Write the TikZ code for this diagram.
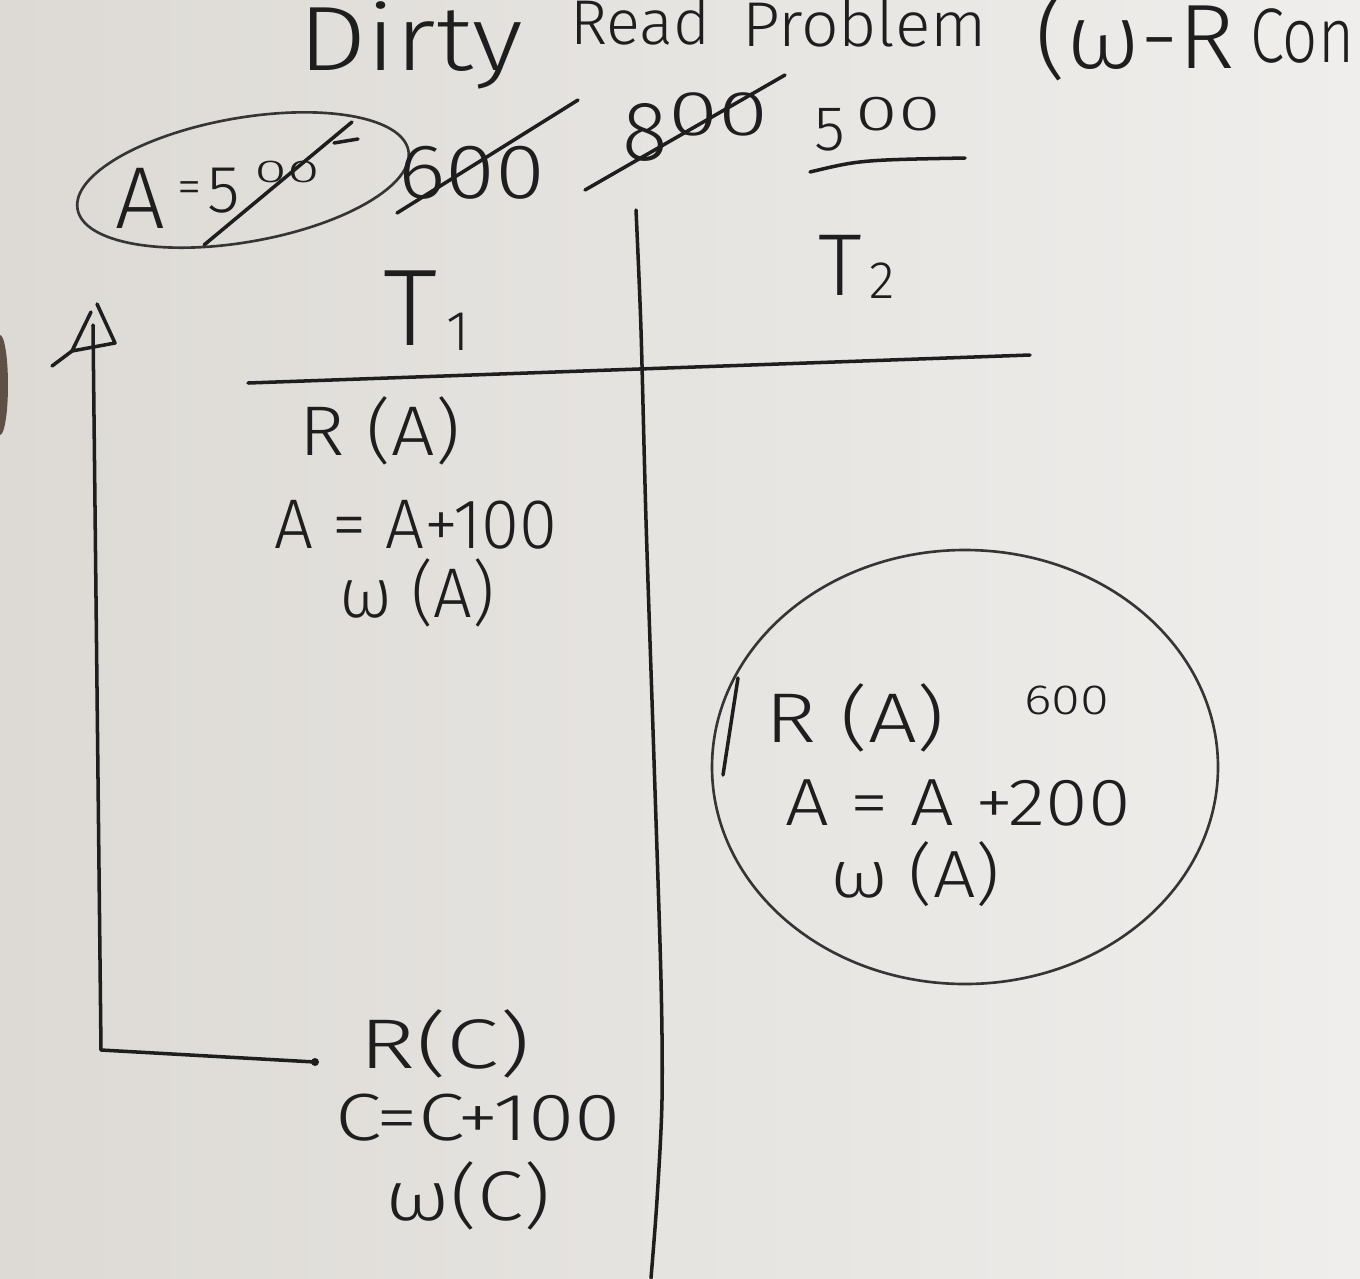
\documentclass[tikz,border=0pt]{standalone}
\usepackage{fontspec}
\setmainfont{Fira Sans Light}
\usepackage{graphicx}
\newlength\pxu
\setlength\pxu{0.01cm}
\newcommand\fitw[2]{\resizebox{#1\pxu}{\height}{#2}}
\definecolor{ink}{HTML}{1E1E1E}
\definecolor{bgl}{RGB}{221,218,213}
\definecolor{bgr}{RGB}{239,238,236}
\definecolor{blob}{RGB}{95,80,70}
\begin{document}
\begin{tikzpicture}[x=0.01cm,y=-0.01cm,
  txt/.style={inner sep=0pt, outer sep=0pt, text=ink, anchor=base},
  fs/.style={font=\fontsize{#1pt}{#1pt}\selectfont},
  inkline/.style={draw=ink, line width=1pt, line cap=round, line join=round},
  thinline/.style={draw=ink!90, line width=0.75pt, line cap=round}]
\useasboundingbox (0,0) rectangle (1360,1278);
\clip (0,0) rectangle (1360,1278);
\shade[left color=bgl, right color=bgr] (0,0) rectangle (1360,1278);
\fill[blob] (0,385) ellipse [x radius=8, y radius=50];

% title
\node[txt, anchor=base west, fs=26] (tDirty) at (298,70) {\fitw{225}{Dirty}};
\node[txt, anchor=base west, fs=18] (tRead) at (570,44) {\fitw{140}{Read}};
\node[txt, anchor=base west, fs=18] (tProblem) at (742,46) {\fitw{245}{Problem}};
\node[txt, anchor=base west, fs=26] (tWR) at (1035,68) {\fitw{200}{(ω-R}};
\node[txt, anchor=base west, fs=22] (tCon) at (1250,62) {\fitw{104}{Con}};

% A = 500 group
\node[txt, fs=25] (aA) at (140,228) {A};
\node[txt, fs=14] (aEq) at (190,203) {=};
\node[txt, fs=19] (a5) at (224,212) {5};
\node[txt, fs=9] (a00) at (287,182) {\fitw{65}{00}};
\draw[inkline] (204,245) -- (352,122);
\draw[inkline] (334,143) -- (358,139);
\draw[thinline, rotate around={10:(243,180)}] (243,180) ellipse [x radius=168, y radius=62];

\node[txt, fs=22] (n600) at (472,198) {\fitw{147}{600}};
\draw[inkline] (397,213) -- (578,100);
\node[txt, fs=24] (n8) at (645,160) {8};
\node[txt, fs=18] (n800) at (718,135) {\fitw{100}{00}};
\draw[inkline] (585,190) -- (785,75);
\node[txt, fs=18] (n5) at (830,150) {5};
\node[txt, fs=14] (n500) at (898,130) {\fitw{85}{00}};
\draw[inkline] (810,172) .. controls (860,160) .. (965,158);

% headers
\node[txt, fs=31] (T1) at (410,345) {T};
\node[txt, fs=16] (T1s) at (458,350) {1};
\node[txt, fs=25] (T2) at (840,295) {T};
\node[txt, fs=15] (T2s) at (882,298) {2};

% table rules
\coordinate (hL) at (248,383);
\coordinate (hR) at (1030,355);
\draw[inkline] (hL) -- (hR);
\draw[inkline] plot[smooth] coordinates {(636,210) (641,330) (646,520) (654,760) (661,980) (662,1100) (657,1200) (651,1278)};

% T1 column
\node[txt, fs=20] (r1) at (380,455) {\fitw{160}{R (A)}};
\node[txt, fs=20] (c1) at (416,548) {\fitw{283}{A = A+100}};
\node[txt, fs=20] (w1) at (417,617) {\fitw{155}{ω (A)}};

% T2 circled block
\draw[thinline] (965,767) ellipse [x radius=253, y radius=217];
\draw[inkline] (738,678) -- (723,775);
\node[txt, fs=20] (r2) at (855,742) {\fitw{180}{R (A)}};
\node[txt, fs=12] (v2) at (1067,714) {\fitw{85}{600}};
\node[txt, fs=19] (c2) at (958,825) {\fitw{345}{A = A +200}};
\node[txt, fs=19] (w2) at (915,897) {\fitw{170}{ω (A)}};

% bottom T1 block
\node[txt, fs=20] (r3) at (445,1068) {\fitw{170}{R(C)}};
\node[txt, fs=19] (c3) at (478,1140) {\fitw{285}{C=C+100}};
\node[txt, fs=20] (w3) at (468,1220) {\fitw{165}{ω(C)}};

% arrow
\coordinate (dot) at (315,1062);
\coordinate (corner) at (101,1050);
\coordinate (tip) at (93,325);
\draw[inkline] (dot) -- (corner) -- (tip);
\fill[ink] (dot) circle [radius=4];
\draw[inkline] (91,312) -- (72,351) -- (115,343) -- (97,304);
\draw[inkline] (72,351) -- (52,366);
\end{tikzpicture}
\end{document}
